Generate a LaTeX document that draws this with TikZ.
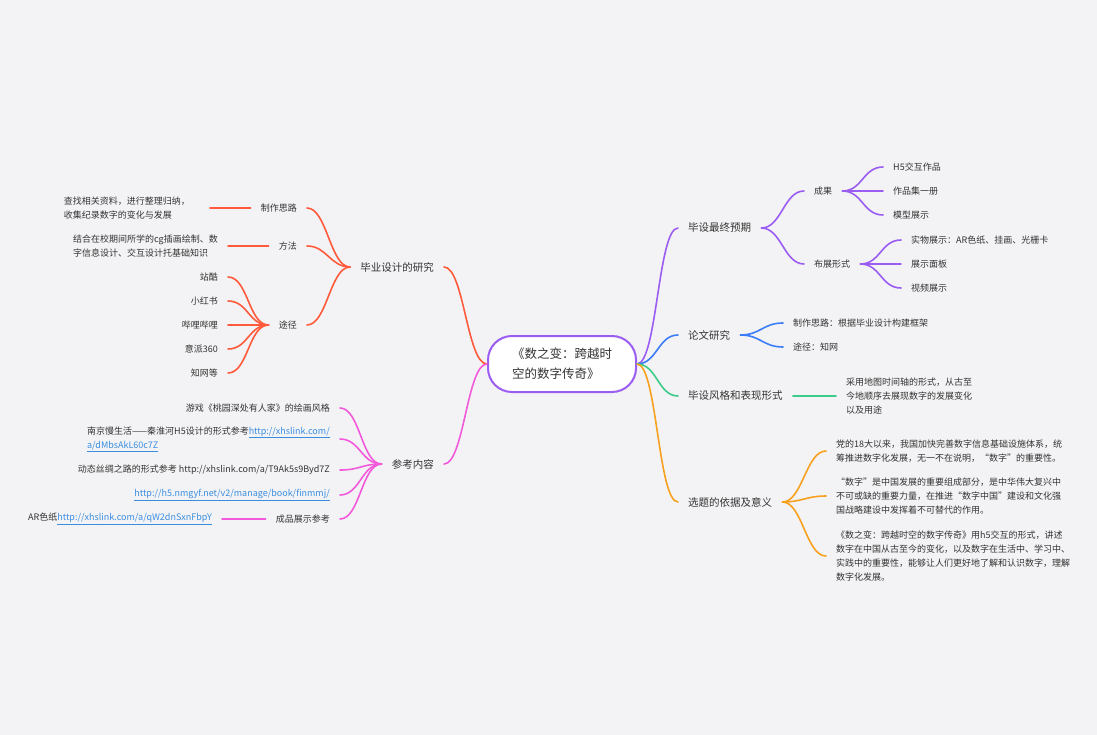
\documentclass[tikz,border=0pt]{standalone}
\usepackage{fontspec}
\setmainfont{Noto Sans CJK SC}
\definecolor{bgc}{HTML}{F3F3F5}
\definecolor{txt}{HTML}{333333}
\definecolor{lnkc}{HTML}{3A8EE0}
\definecolor{cred}{HTML}{FF5A3C}
\definecolor{cpink}{HTML}{F25ADB}
\definecolor{cpurple}{HTML}{9B5CF2}
\definecolor{cblue}{HTML}{3B7DF8}
\definecolor{cgreen}{HTML}{3DCB8A}
\definecolor{corange}{HTML}{F7A11E}
\newcommand{\lnk}[1]{\textcolor{lnkc}{\underline{#1}}}
\tikzset{
  topic/.style={font=\fontsize{10.5}{14}\selectfont, text=txt, inner xsep=10pt, inner ysep=3pt},
  leaf/.style={font=\fontsize{9}{14}\selectfont, text=txt, inner xsep=10pt, inner ysep=2pt, align=left},
  branch/.style={line width=1.6pt, line cap=round},
}
\begin{document}
\begin{tikzpicture}[x=1pt, y=-1pt]
\fill[bgc] (0,0) rectangle (1097,735);
\useasboundingbox (0,0) rectangle (1097,735);

% centre
\node[draw=cpurple, line width=2pt, fill=white, rounded corners=24pt,
      minimum width=148pt, minimum height=56pt, align=left, text=txt,
      font=\fontsize{12.5}{20}\selectfont] (root) at (562,364)
      {《数之变：跨越时\\空的数字传奇》};

% right side
\node[topic, anchor=west] (yq) at (678,228) {毕设最终预期};
\node[topic, anchor=west] (lw) at (678,335) {论文研究};
\node[topic, anchor=west] (fg) at (678,396) {毕设风格和表现形式};
\node[topic, anchor=west] (yy) at (678,502) {选题的依据及意义};

\node[leaf, anchor=west] (cg) at (804,191) {成果};
\node[leaf, anchor=west] (bz) at (804,264) {布展形式};
\node[leaf, anchor=west] (cg1) at (883,167) {H5交互作品};
\node[leaf, anchor=west] (cg2) at (883,191) {作品集一册};
\node[leaf, anchor=west] (cg3) at (883,215) {模型展示};
\node[leaf, anchor=west] (bz1) at (901,240) {实物展示：AR色纸、挂画、光栅卡};
\node[leaf, anchor=west] (bz2) at (901,264) {展示面板};
\node[leaf, anchor=west] (bz3) at (901,288) {视频展示};

\node[leaf, anchor=west] (lw1) at (783,323) {制作思路：根据毕业设计构建框架};
\node[leaf, anchor=west] (lw2) at (783,347) {途径：知网};

\node[leaf, anchor=west] (fgd) at (836,396)
  {采用地图时间轴的形式，从古至\\今地顺序去展现数字的发展变化\\以及用途};

\node[leaf, anchor=west] (yy1) at (826,451)
  {党的18大以来，我国加快完善数字信息基础设施体系，统\\筹推进数字化发展，无一不在说明，“数字”的重要性。};
\node[leaf, anchor=west] (yy2) at (826,496)
  {“数字”是中国发展的重要组成部分，是中华伟大复兴中\\不可或缺的重要力量，在推进“数字中国”建设和文化强\\国战略建设中发挥着不可替代的作用。};
\node[leaf, anchor=west] (yy3) at (826,556)
  {《数之变：跨越时空的数字传奇》用h5交互的形式，讲述\\数字在中国从古至今的变化，以及数字在生活中、学习中、\\实践中的重要性，能够让人们更好地了解和认识数字，理解\\数字化发展。};

% left side
\node[topic, anchor=east] (yj) at (444,267) {毕业设计的研究};
\node[topic, anchor=east] (ck) at (444,464) {参考内容};

\node[leaf, anchor=east] (zs) at (307,208) {制作思路};
\node[leaf, anchor=east] (ff) at (307,246) {方法};
\node[leaf, anchor=east] (tj) at (307,325) {途径};
\node[leaf, anchor=east] (zsd) at (200,208)
  {查找相关资料，进行整理归纳，\\收集纪录数字的变化与发展};
\node[leaf, anchor=east] (ffd) at (228,246)
  {结合在校期间所学的cg插画绘制、数\\字信息设计、交互设计托基础知识};
\foreach \nm/\y/\t in {tj1/277/站酷, tj2/301/小红书, tj3/325/哔哩哔哩, tj4/349/意派360, tj5/373/知网等}
  \node[leaf, anchor=east] (\nm) at (228,\y) {\t};

\node[leaf, anchor=east] (ck1) at (340,408) {游戏《桃园深处有人家》的绘画风格};
\node[leaf, anchor=east] (ck2) at (340,439)
  {南京慢生活——秦淮河H5设计的形式参考\lnk{http://xhslink.com/}\\\lnk{a/dMbsAkL60c7Z}};
\node[leaf, anchor=east] (ck3) at (340,470) {动态丝绸之路的形式参考 http://xhslink.com/a/T9Ak5s9Byd7Z};
\node[leaf, anchor=east] (ck4) at (340,495) {\lnk{http://h5.nmgyf.net/v2/manage/book/finmmj/}};
\node[leaf, anchor=east] (cp) at (340,519) {成品展示参考};
\node[leaf, anchor=east] (cpd) at (222,519) {AR色纸\lnk{http://xhslink.com/a/qW2dnSxnFbpY}};

% connectors right
\draw[branch, cpurple] (root.east) .. controls +(20,0) and +(-20,0) .. (yq.west);
\draw[branch, cblue] (root.east) .. controls +(20,0) and +(-20,0) .. (lw.west);
\draw[branch, cgreen] (root.east) .. controls +(20,0) and +(-20,0) .. (fg.west);
\draw[branch, corange] (root.east) .. controls +(20,0) and +(-20,0) .. (yy.west);
\foreach \a/\b in {yq/cg, yq/bz, cg/cg1, cg/cg2, cg/cg3, bz/bz1, bz/bz2, bz/bz3}
  \draw[branch, cpurple] (\a.east) .. controls +(20,0) and +(-20,0) .. (\b.west);
\foreach \b in {lw1, lw2}
  \draw[branch, cblue] (lw.east) .. controls +(20,0) and +(-20,0) .. (\b.west);
\draw[branch, cgreen] (fg.east) -- (fgd.west);
\foreach \b in {yy1, yy2, yy3}
  \draw[branch, corange] (yy.east) .. controls +(20,0) and +(-20,0) .. (\b.west);

% connectors left
\draw[branch, cred] (root.west) .. controls +(-20,0) and +(20,0) .. (yj.east);
\draw[branch, cpink] (root.west) .. controls +(-20,0) and +(20,0) .. (ck.east);
\foreach \a/\b in {yj/zs, yj/ff, yj/tj, tj/tj1, tj/tj2, tj/tj3, tj/tj4, tj/tj5}
  \draw[branch, cred] (\a.west) .. controls +(-20,0) and +(20,0) .. (\b.east);
\draw[branch, cred] (zs.west) -- (zsd.east -| 210,0);
\draw[branch, cred] (ff.west) -- (ffd.east);
\foreach \b in {ck1, ck2, ck3, ck4, cp}
  \draw[branch, cpink] (ck.west) .. controls +(-20,0) and +(20,0) .. (\b.east);
\draw[branch, cpink] (cp.west) -- (cpd.east);
\end{tikzpicture}
\end{document}
